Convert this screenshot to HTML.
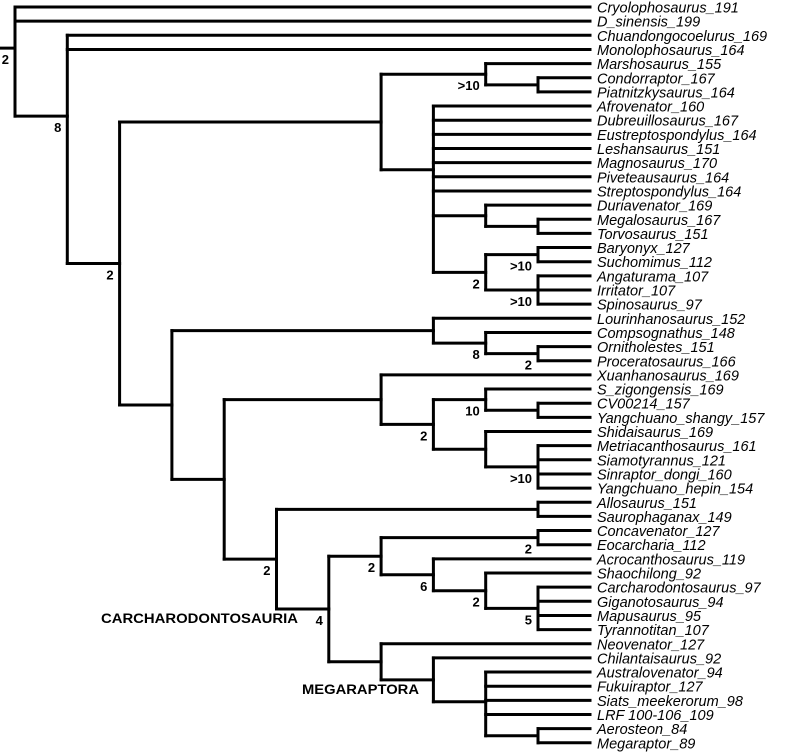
<!DOCTYPE html>
<html><head><meta charset="utf-8"><style>
html,body{margin:0;padding:0;background:#fff;}
svg{display:block;}
.leaf{font-family:"Liberation Sans",sans-serif;font-style:italic;font-size:14.5px;fill:#000;}
.sup{font-family:"Liberation Sans",sans-serif;font-weight:bold;font-size:13px;fill:#000;}
.clade{font-family:"Liberation Sans",sans-serif;font-weight:bold;font-size:13.5px;fill:#000;}
</style></head><body>
<svg id="tree" width="805" height="753" viewBox="0 0 805 753" xmlns="http://www.w3.org/2000/svg">
<text class="clade" x="101" y="623" textLength="197" lengthAdjust="spacingAndGlyphs">CARCHARODONTOSAURIA</text>
<text class="clade" x="302" y="694" textLength="117" lengthAdjust="spacingAndGlyphs">MEGARAPTORA</text>
</svg>
<script>
const taxa = ["Cryolophosaurus_191","D_sinensis_199","Chuandongocoelurus_169","Monolophosaurus_164","Marshosaurus_155","Condorraptor_167","Piatnitzkysaurus_164","Afrovenator_160","Dubreuillosaurus_167","Eustreptospondylus_164","Leshansaurus_151","Magnosaurus_170","Piveteausaurus_164","Streptospondylus_164","Duriavenator_169","Megalosaurus_167","Torvosaurus_151","Baryonyx_127","Suchomimus_112","Angaturama_107","Irritator_107","Spinosaurus_97","Lourinhanosaurus_152","Compsognathus_148","Ornitholestes_151","Proceratosaurus_166","Xuanhanosaurus_169","S_zigongensis_169","CV00214_157","Yangchuano_shangy_157","Shidaisaurus_169","Metriacanthosaurus_161","Siamotyrannus_121","Sinraptor_dongi_160","Yangchuano_hepin_154","Allosaurus_151","Saurophaganax_149","Concavenator_127","Eocarcharia_112","Acrocanthosaurus_119","Shaochilong_92","Carcharodontosaurus_97","Giganotosaurus_94","Mapusaurus_95","Tyrannotitan_107","Neovenator_127","Chilantaisaurus_92","Australovenator_94","Fukuiraptor_127","Siats_meekerorum_98","LRF 100-106_109","Aerosteon_84","Megaraptor_89"];
// tree: [level, support, children...] ; numbers are leaf indices
const tree = [0,"2",0,1,
 [1,"8",2,3,
  [2,"2",
   [7,"",
    [9,">10",4,[10,"",5,6]],
    [8,"",7,8,9,10,11,12,13,[9,"",14,[10,"",15,16]],[9,"2",[10,">10",17,18],[10,">10",19,20,21]]]
   ],
   [3,"",
    [8,"",22,[9,"8",23,[10,"2",24,25]]],
    [4,"",
     [7,"",26,[8,"2",[9,"10",27,[10,"",28,29]],[9,"",30,[10,">10",31,32,33,34]]]],
     [5,"2",
      [10,"",35,36],
      [6,"4",
       [7,"2",[10,"2",37,38],[8,"6",39,[9,"2",40,[10,"5",41,42,43,44]]]],
       [7,"",45,[8,"",46,[9,"",47,48,49,50,[10,"",51,52]]]]
      ]
     ]
    ]
   ]
  ]
 ]
];
const X0 = 15, XSTEP = 52.3, LEAFX = 590, Y0 = 7, YSTEP = 14.15;
const svg = document.getElementById('tree');
const NS = "http://www.w3.org/2000/svg";
function xL(l){return X0 + l*XSTEP;}
function yLeaf(i){return Y0 + i*YSTEP;}
function line(x1,y1,x2,y2,name){
  const l=document.createElementNS(NS,'line');
  l.setAttribute('x1',x1);l.setAttribute('y1',y1);l.setAttribute('x2',x2);l.setAttribute('y2',y2);
  l.setAttribute('stroke','#000');l.setAttribute('stroke-width','3');l.setAttribute('stroke-linecap','square');
  
  
  svg.appendChild(l);
}
function draw(node){
  if(typeof node==='number'){
    const y=yLeaf(node);
    const t=document.createElementNS(NS,'text');
    t.setAttribute('class','leaf');t.setAttribute('x',LEAFX+7);t.setAttribute('y',y+5.5);
    t.textContent=taxa[node];
    
    
    svg.appendChild(t);
    return {x:LEAFX,y:y};
  }
  const x=xL(node[0]);
  const kids=node.slice(2).map(draw);
  const ys=kids.map(k=>k.y);
  const y=ys.reduce((a,b)=>a+b,0)/ys.length;
  line(x,Math.min(...ys),x,Math.max(...ys),'clade-vertical');
  kids.forEach(k=>line(x,k.y,k.x,k.y,'branch'));
  if(node[1]){
    const t=document.createElementNS(NS,'text');
    t.setAttribute('class','sup');t.setAttribute('x',x-6);t.setAttribute('y',y+16);
    t.setAttribute('text-anchor','end');t.textContent=node[1];
    
    
    svg.appendChild(t);
  }
  return {x:x,y:y};
}
const r=draw(tree);
line(0,r.y,r.x,r.y,'root-stub');
</script>
</body></html>
